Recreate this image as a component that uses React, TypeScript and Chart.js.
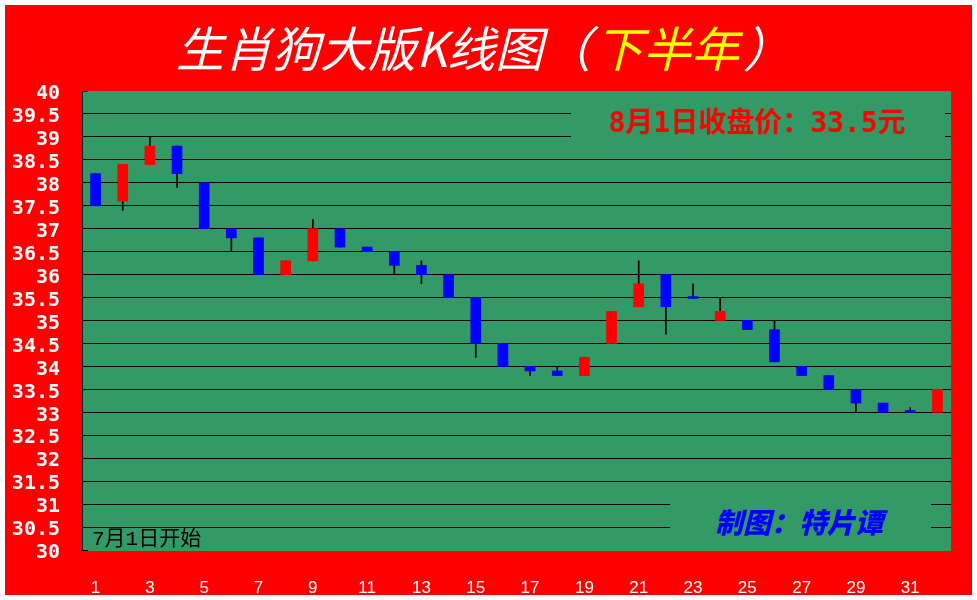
import React, { useEffect, useRef } from "react";
import { Chart, registerables } from "chart.js";

Chart.register(...registerables);

const days = ["1","2","3","4","5","6","7","8","9","10","11","12","13","14","15","16","17","18","19","20","21","22","23","24","25","26","27","28","29","30","31","32"];
const opens = [38.2, 37.6, 38.4, 38.8, 38.0, 37.0, 36.8, 36.0, 36.3, 37.0, 36.6, 36.5, 36.2, 36.0, 35.5, 34.5, 34.0, 33.9, 33.8, 34.5, 35.3, 36.0, 35.52, 35.0, 35.0, 34.8, 34.0, 33.8, 33.5, 33.2, 33.04, 33.0];
const closes = [37.5, 38.4, 38.8, 38.2, 37.0, 36.8, 36.0, 36.3, 37.0, 36.6, 36.5, 36.2, 36.0, 35.5, 34.5, 34.0, 33.9, 33.8, 34.2, 35.2, 35.8, 35.3, 35.48, 35.2, 34.8, 34.1, 33.8, 33.5, 33.2, 33.0, 33.0, 33.5];
const highs = [38.2, 38.4, 39.0, 38.8, 38.0, 37.0, 36.8, 36.3, 37.2, 37.0, 36.6, 36.5, 36.3, 36.0, 35.5, 34.5, 34.0, 34.0, 34.2, 35.2, 36.3, 36.0, 35.8, 35.5, 35.0, 35.0, 34.0, 33.8, 33.5, 33.2, 33.1, 33.5];
const lows = [37.5, 37.4, 38.4, 37.9, 37.0, 36.5, 36.0, 36.0, 36.3, 36.6, 36.5, 36.0, 35.8, 35.5, 34.2, 34.0, 33.8, 33.8, 33.8, 34.5, 35.3, 34.7, 35.48, 35.0, 34.8, 34.1, 33.8, 33.5, 33.0, 33.0, 33.0, 33.0];

const titleParts: [string, string][] = [["生肖狗大版K线图", "#ffffff"], ["（", "#ffffff"], ["下半年", "#ffff00"], ["）", "#ffffff"]];
const closeNote = "8月1日收盘价：33.5元";
const startNote = "7月1日开始";
const authorNote = "制图：特片谭";

const UP = "#ff0000";
const DOWN = "#0000ff";
const PLOT_BG = "#339966";

const decorPlugin = {
  id: "decor",
  beforeDraw(chart: any) {
    const { ctx, chartArea, width, height } = chart;
    ctx.save();
    ctx.fillStyle = "#ffffff";
    ctx.fillRect(0, 0, width, height);
    ctx.fillStyle = "#ff0000";
    ctx.fillRect(5, 5, width - 10, height - 10);
    ctx.fillStyle = PLOT_BG;
    ctx.fillRect(chartArea.left, chartArea.top, chartArea.right - chartArea.left, chartArea.bottom - chartArea.top + 1);
    ctx.restore();
  },
  afterDraw(chart: any) {
    const { ctx, chartArea } = chart;
    const y = chart.scales.y;
    ctx.save();
    ctx.strokeStyle = "#000";
    ctx.lineWidth = 1;
    [40, 30].forEach((v) => {
      const py = Math.round(y.getPixelForValue(v)) + 0.5;
      ctx.beginPath();
      ctx.moveTo(chartArea.left, py);
      ctx.lineTo(chartArea.left + 6, py);
      ctx.stroke();
    });
    ctx.fillStyle = PLOT_BG;
    ctx.fillRect(571, 104, 374, 42);
    ctx.fillRect(670, 492, 261, 51);

    ctx.fillStyle = "#ff0000";
    ctx.font = 'bold 28px "DejaVu Sans Mono", "Noto Sans CJK SC"';
    ctx.textAlign = "center";
    ctx.textBaseline = "middle";
    ctx.fillText(closeNote, 757, 125);

    ctx.fillStyle = "#0000ff";
    ctx.font = 'italic 900 28px "Noto Sans CJK SC"';
    ctx.fillText(authorNote, 799, 522);

    ctx.fillStyle = "#000000";
    ctx.font = '21px "Liberation Mono", "Noto Sans CJK SC"';
    ctx.textAlign = "left";
    ctx.fillText(startNote, 92, 539);

    ctx.font = 'italic 48px "Noto Sans CJK SC"';
    ctx.textBaseline = "middle";
    const gaps = [0, 4, 4, 0];
    let x = 176;
    titleParts.forEach(([t, c], i) => {
      ctx.fillStyle = c;
      ctx.fillText(t, x, 49);
      x += ctx.measureText(t).width + gaps[i];
    });
    ctx.restore();
  },
};

export default function App() {
  const ref = useRef<HTMLCanvasElement | null>(null);
  useEffect(() => {
    if (!ref.current) return;
    const bodyColors = opens.map((o, i) => (closes[i] > o ? UP : DOWN));
    const chart = new Chart(ref.current, {
      type: "bar",
      data: {
        labels: days,
        datasets: [
          {
            label: "body",
            data: opens.map((o, i) => [o, closes[i]]) as any,
            backgroundColor: bodyColors,
            borderWidth: 0,
            barThickness: 10,
            grouped: false,
            order: 1,
          } as any,
          {
            label: "wick",
            data: lows.map((l, i) => [l, highs[i]]) as any,
            backgroundColor: "#000000",
            borderWidth: 0,
            barThickness: 1,
            grouped: false,
            order: 2,
          } as any,
        ],
      },
      options: {
        responsive: false,
        animation: false,
        layout: { padding: { left: 0, top: 91, right: 26, bottom: 0 } },
        plugins: {
          legend: { display: false },
          tooltip: { enabled: false },
          title: { display: false },
        },
        scales: {
          x: {
            grid: { display: false },
            border: { display: false },
            ticks: {
              autoSkip: false,
              maxRotation: 0,
              color: "#ffffff",
              padding: 20,
              font: { family: '"Liberation Sans Narrow", "Liberation Sans"', size: 17 },
              callback: (_v: any, i: number) => (i % 2 === 0 ? days[i] : ""),
            },
            afterFit: (s: any) => {
              s.height = 50;
            },
          },
          y: {
            min: 30,
            max: 40,
            grid: {
              drawTicks: false,
              color: (c: any) => (c.tick && (c.tick.value === 30 || c.tick.value === 40) ? "rgba(0,0,0,0)" : "#000000"),
              lineWidth: 1,
            },
            border: { display: true, color: "#000000", width: 1 },
            ticks: {
              stepSize: 0.5,
              autoSkip: false,
              maxTicksLimit: 50,
              labelOffset: 3,
              color: "#ffffff",
              padding: 22,
              font: { family: '"DejaVu Sans Mono"', weight: "bold", size: 20, lineHeight: 1 },
              callback: (v: any) => String(v),
            },
            afterFit: (s: any) => {
              s.width = 82;
            },
          },
        },
      },
      plugins: [decorPlugin],
    });
    return () => chart.destroy();
  }, []);
  return (
    <div style={{ position: "absolute", left: 0, top: 0, width: 977, height: 600, background: "#fff" }}>
      <canvas ref={ref} width={977} height={600} style={{ display: "block" }} />
    </div>
  );
}
